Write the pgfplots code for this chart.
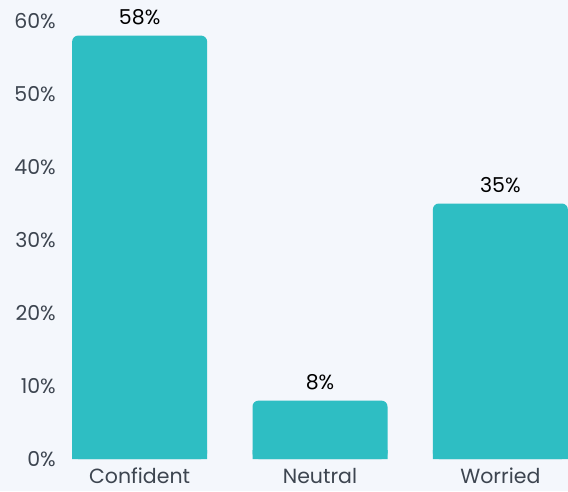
\documentclass[border=0pt]{standalone}
\usepackage{fontspec}
\setmainfont{Poppins}
\usepackage{pgfplots}
\pgfplotsset{compat=1.18}
\definecolor{bg}{HTML}{F4F7FC}
\definecolor{bar}{HTML}{2EBEC3}
\definecolor{tick}{HTML}{3D4550}
\begin{document}
\begin{tikzpicture}
\fill[bg] (0,0) rectangle (568pt,491pt);
\begin{axis}[
  at={(72pt,32pt)}, anchor=south west,
  width=496pt, height=438pt, scale only axis,
  xmin=-0.375, xmax=2.375, ymin=0, ymax=60,
  axis line style={draw=none},
  major tick length=0pt,
  ybar, bar width=135pt, bar shift=0pt,
  xtick={0,1,2}, xticklabels={Confident,Neutral,Worried},
  ytick={0,10,20,30,40,50,60},
  yticklabels={0\%,10\%,20\%,30\%,40\%,50\%,60\%},
  tick label style={font=\fontsize{20.5}{24}\selectfont, text=tick, inner sep=0pt},
  y tick label style={anchor=east, xshift=-16pt},
  x tick label style={anchor=north, yshift=-9pt},
  /pgf/number format/assume math mode=true,
  clip=false,
]
\addplot[fill=bar, draw=none, rounded corners=6pt,
  nodes near coords={\pgfmathprintnumber{\pgfplotspointmeta}\%},
  every node near coord/.append style={font=\fontsize{20.5}{24}\selectfont, text=black, anchor=south, inner sep=0pt, yshift=10.5pt}]
  coordinates {(0,58) (1,8) (2,35)};
\addplot[fill=bar, draw=none, sharp corners, forget plot]
  coordinates {(0,1.2) (1,1.2) (2,1.2)};
\end{axis}
\pgfresetboundingbox
\useasboundingbox (0,0) rectangle (568pt,491pt);
\end{tikzpicture}
\end{document}
